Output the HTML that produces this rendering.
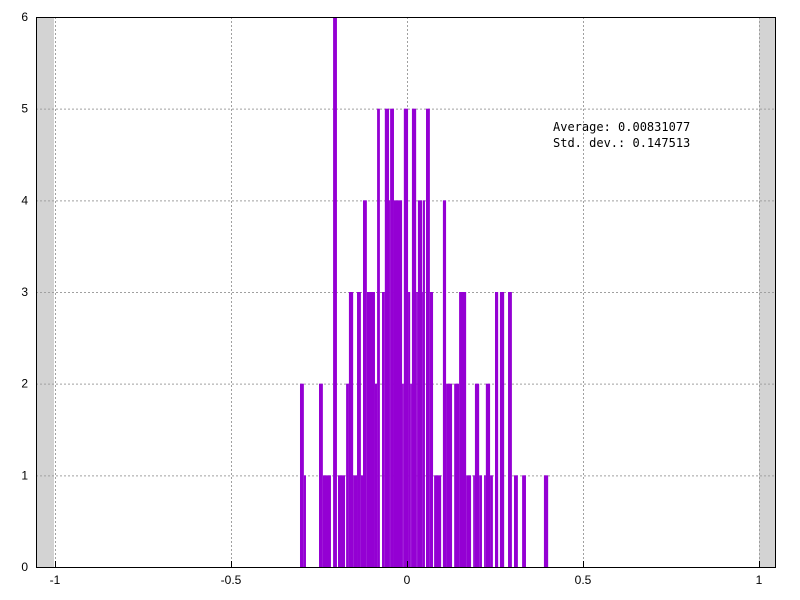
<!DOCTYPE html>
<html><head><meta charset="utf-8"><style>body{margin:0;background:#fff}svg{display:block}text{font-family:"Liberation Sans",sans-serif;font-size:12px;fill:#000}</style></head>
<body>
<svg id="chart" width="800" height="600" xmlns="http://www.w3.org/2000/svg">
<g id="bg"></g><g id="grid"></g><g id="bars"></g><g id="axes"></g>
<text x="553" y="131" style="font-family:'DejaVu Sans Mono','Liberation Mono',monospace;font-size:12px">Average: 0.00831077</text>
<text x="553" y="147" style="font-family:'DejaVu Sans Mono','Liberation Mono',monospace;font-size:12px">Std. dev.: 0.147513</text>
</svg>
<script>
const binLo=[-0.304,-0.293,-0.250,-0.239,-0.210,-0.196,-0.173,-0.165,-0.153,-0.142,-0.131,-0.125,-0.114,-0.091,-0.085,-0.071,-0.063,-0.051,-0.048,-0.037,-0.014,-0.009,0.003,0.009,0.014,0.026,0.031,0.043,0.045,0.054,0.065,0.077,0.102,0.111,0.134,0.148,0.168,0.188,0.193,0.205,0.219,0.224,0.236,0.250,0.264,0.287,0.304,0.327,0.389];
const binHi=[-0.293,-0.287,-0.239,-0.216,-0.199,-0.176,-0.165,-0.153,-0.142,-0.131,-0.125,-0.114,-0.091,-0.085,-0.077,-0.063,-0.051,-0.048,-0.037,-0.014,-0.009,0.003,0.009,0.014,0.026,0.031,0.043,0.045,0.051,0.065,0.074,0.097,0.111,0.128,0.148,0.168,0.182,0.193,0.205,0.213,0.224,0.236,0.244,0.259,0.276,0.298,0.315,0.338,0.401];
const counts=[2,1,2,1,6,1,2,3,1,3,1,4,3,2,5,3,5,4,5,4,2,5,3,2,5,3,4,3,4,5,3,1,4,2,2,3,1,1,2,1,1,2,1,3,3,3,1,1,1];
const xTicks=[-1,-0.5,0,0.5,1];
const xTickLabels=["-1","-0.5","0","0.5","1"];
const yTicks=[0,1,2,3,4,5,6];
const yMin=0,yMax=6;
const L=36,R=776,T=17,B=567;
const X=v=>407+352*v;
const Y=v=>B-(v-yMin)/(yMax-yMin)*(B-T);
const NS="http://www.w3.org/2000/svg";
function mk(tag,parent,attrs){const e=document.createElementNS(NS,tag);for(const k in attrs)e.setAttribute(k,attrs[k]);document.getElementById(parent).appendChild(e);return e;}
let e;
e=mk('rect','bg',{x:L,y:T,width:X(-1)-L-1,height:B-T,fill:'#d3d3d3'});


e=mk('rect','bg',{x:X(1),y:T,width:R-X(1),height:B-T,fill:'#d3d3d3'});


xTicks.forEach((t,i)=>{
 e=mk('line','grid',{x1:X(t)+0.5,x2:X(t)+0.5,y1:T,y2:B,stroke:'#a0a0a0','stroke-dasharray':'2,2'});
 
 
 e=mk('line','axes',{x1:X(t)+0.5,x2:X(t)+0.5,y1:B,y2:B-6,stroke:'#000'});
 
 
 e=mk('text','axes',{x:X(t),y:B+17,'text-anchor':'middle'});
 e.textContent=xTickLabels[i];
 
 
});
yTicks.forEach(t=>{
 e=mk('line','grid',{x1:L,x2:R,y1:Y(t)+0.5,y2:Y(t)+0.5,stroke:'#a0a0a0','stroke-dasharray':'2,2'});
 
 
 e=mk('text','axes',{x:L-8,y:Y(t)+4,'text-anchor':'end'});
 e.textContent=String(t);
 
 
});
counts.forEach((c,i)=>{
 e=mk('rect','bars',{x:X(binLo[i]),y:Y(c),width:Math.max(1,X(binHi[i])-X(binLo[i])),height:Y(0)-Y(c),fill:'#9400d3'});
 
 
});
e=mk('rect','axes',{x:L+0.5,y:T+0.5,width:R-L-1,height:B-T,fill:'none',stroke:'#000'});


</script>
</body></html>
